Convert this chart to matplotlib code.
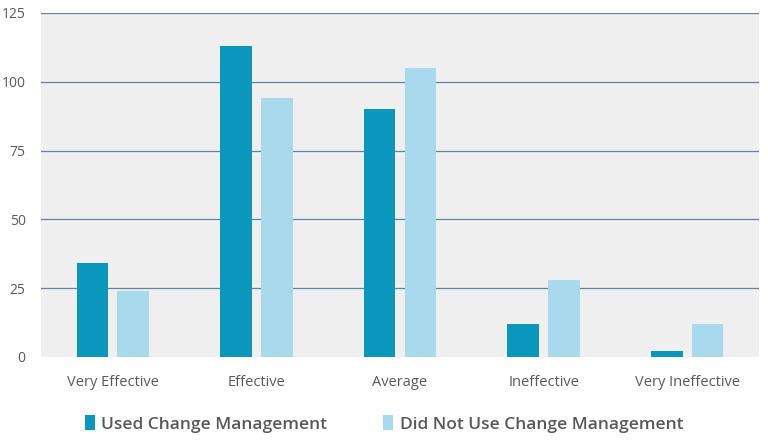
import matplotlib
matplotlib.use("Agg")
import matplotlib.pyplot as plt
import numpy as np

categories = ["Very Effective", "Effective", "Average", "Ineffective", "Very Ineffective"]
used = [34, 113, 90, 12, 2]
not_used = [24, 94, 105, 28, 12]
series_names = ["Used Change Management", "Did Not Use Change Management"]
yticks = [0, 25, 50, 75, 100, 125]

plt.rcParams['font.family'] = ['Open Sans', 'DejaVu Sans']

fig = plt.figure(figsize=(7.68, 4.43), dpi=100)
ax = fig.add_axes([41/768, 86/443, 718/768, 344/443])
ax.set_facecolor("#EFEFEF")

x = np.arange(len(categories))
w = 0.22
off = 0.142
ax.bar(x - off, used, w, color="#0A97BD", label=series_names[0], zorder=3)
ax.bar(x + off, not_used, w, color="#A9D9EC", label=series_names[1], zorder=3)

ax.set_xlim(-0.5, len(categories) - 0.5)
ax.set_ylim(0, 125)
ax.set_yticks(yticks)
ax.set_yticklabels([str(t) for t in yticks])
for t in yticks[1:]:
    ax.axhline(t, color="#5F84A6", linewidth=0.9, zorder=2)

ax.set_xticks(x)
ax.set_xticklabels(categories)
for s in ax.spines.values():
    s.set_visible(False)
ax.tick_params(axis='both', length=0, colors="#595959", labelsize=10.5)
ax.tick_params(axis='y', pad=11, labelsize=10)
ax.tick_params(axis='x', pad=13)

leg = fig.legend(loc="center", bbox_to_anchor=(0.5, 1 - 424/443), ncol=2, frameon=False,
                 handlelength=0.6, handleheight=0.9, handletextpad=0.35, columnspacing=3.2,
                 prop={'size': 12.5, 'weight': 'semibold'})
for t in leg.get_texts():
    t.set_color("#595959")

fig.savefig("out.png", dpi=100)
